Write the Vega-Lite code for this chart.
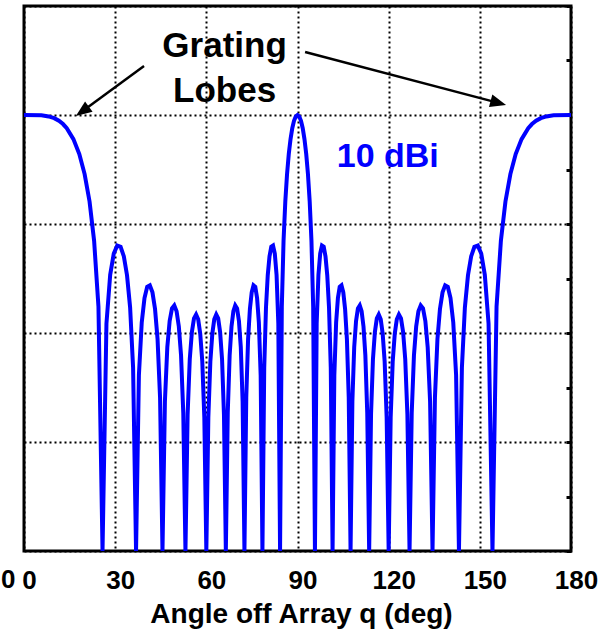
{
  "$schema": "https://vega.github.io/schema/vega-lite/v6.json",
  "width": 547,
  "height": 545,
  "autosize": {"type": "none"},
  "padding": {"left": 24, "top": 6, "right": 44, "bottom": 80},
  "background": "white",
  "config": {"view": {"stroke": "black", "strokeWidth": 3}, "font": "Liberation Sans"},
  "datasets": {
    "pattern": [
      {"angle": 0, "gain": 0}, {"angle": 5.73, "gain": -0.03}, {"angle": 8.11, "gain": -0.13}, {"angle": 9.94, "gain": -0.29},
      {"angle": 11.48, "gain": -0.53}, {"angle": 12.84, "gain": -0.83}, {"angle": 14.07, "gain": -1.21}, {"angle": 16.26, "gain": -2.21},
      {"angle": 18.2, "gain": -3.58}, {"angle": 19.95, "gain": -5.42}, {"angle": 21.57, "gain": -7.93}, {"angle": 23.07, "gain": -11.53},
      {"angle": 24.5, "gain": -17.58}, {"angle": 25.84, "gain": -40}, {"angle": 27.13, "gain": -19.13}, {"angle": 28.36, "gain": -14.66},
      {"angle": 29.54, "gain": -12.71}, {"angle": 30.68, "gain": -11.98}, {"angle": 31.79, "gain": -12.09}, {"angle": 32.86, "gain": -12.97},
      {"angle": 33.9, "gain": -14.7}, {"angle": 34.92, "gain": -17.66}, {"angle": 35.9, "gain": -23.18}, {"angle": 36.87, "gain": -40},
      {"angle": 37.81, "gain": -23.87}, {"angle": 38.74, "gain": -19.05}, {"angle": 39.65, "gain": -16.79}, {"angle": 40.54, "gain": -15.77},
      {"angle": 41.41, "gain": -15.63}, {"angle": 42.27, "gain": -16.27}, {"angle": 43.12, "gain": -17.8}, {"angle": 43.95, "gain": -20.56},
      {"angle": 44.77, "gain": -25.9}, {"angle": 45.57, "gain": -40}, {"angle": 46.37, "gain": -26.27}, {"angle": 47.16, "gain": -21.29},
      {"angle": 47.93, "gain": -18.89}, {"angle": 48.7, "gain": -17.75}, {"angle": 49.46, "gain": -17.48}, {"angle": 50.21, "gain": -18},
      {"angle": 50.95, "gain": -19.41}, {"angle": 51.68, "gain": -22.06}, {"angle": 52.41, "gain": -27.3}, {"angle": 53.13, "gain": -40},
      {"angle": 53.84, "gain": -27.46}, {"angle": 54.55, "gain": -22.39}, {"angle": 55.25, "gain": -19.9}, {"angle": 55.94, "gain": -18.66},
      {"angle": 56.63, "gain": -18.3}, {"angle": 57.32, "gain": -18.74}, {"angle": 57.99, "gain": -20.06}, {"angle": 58.67, "gain": -22.63},
      {"angle": 59.34, "gain": -27.78}, {"angle": 60, "gain": -40}, {"angle": 60.66, "gain": -27.78}, {"angle": 61.32, "gain": -22.63},
      {"angle": 61.97, "gain": -20.06}, {"angle": 62.61, "gain": -18.74}, {"angle": 63.26, "gain": -18.3}, {"angle": 63.9, "gain": -18.66},
      {"angle": 64.53, "gain": -19.9}, {"angle": 65.17, "gain": -22.39}, {"angle": 65.8, "gain": -27.46}, {"angle": 66.42, "gain": -40},
      {"angle": 67.05, "gain": -27.3}, {"angle": 67.67, "gain": -22.06}, {"angle": 68.28, "gain": -19.41}, {"angle": 68.9, "gain": -18},
      {"angle": 69.51, "gain": -17.48}, {"angle": 70.12, "gain": -17.75}, {"angle": 70.73, "gain": -18.89}, {"angle": 71.34, "gain": -21.29},
      {"angle": 71.94, "gain": -26.27}, {"angle": 72.54, "gain": -40}, {"angle": 73.14, "gain": -25.9}, {"angle": 73.74, "gain": -20.56},
      {"angle": 74.34, "gain": -17.8}, {"angle": 74.93, "gain": -16.27}, {"angle": 75.52, "gain": -15.63}, {"angle": 76.11, "gain": -15.77},
      {"angle": 76.7, "gain": -16.79}, {"angle": 77.29, "gain": -19.05}, {"angle": 77.88, "gain": -23.87}, {"angle": 78.46, "gain": -40},
      {"angle": 79.05, "gain": -23.18}, {"angle": 79.63, "gain": -17.66}, {"angle": 80.21, "gain": -14.7}, {"angle": 80.79, "gain": -12.97},
      {"angle": 81.37, "gain": -12.09}, {"angle": 81.95, "gain": -11.98}, {"angle": 82.53, "gain": -12.71}, {"angle": 83.11, "gain": -14.66},
      {"angle": 83.69, "gain": -19.13}, {"angle": 84.26, "gain": -40}, {"angle": 84.84, "gain": -17.58}, {"angle": 85.41, "gain": -11.53},
      {"angle": 85.99, "gain": -7.93}, {"angle": 86.56, "gain": -5.42}, {"angle": 87.13, "gain": -3.58}, {"angle": 87.71, "gain": -2.21},
      {"angle": 88.28, "gain": -1.21}, {"angle": 88.85, "gain": -0.53}, {"angle": 89.43, "gain": -0.13}, {"angle": 90, "gain": 0},
      {"angle": 90.57, "gain": -0.13}, {"angle": 91.15, "gain": -0.53}, {"angle": 91.72, "gain": -1.21}, {"angle": 92.29, "gain": -2.21},
      {"angle": 92.87, "gain": -3.58}, {"angle": 93.44, "gain": -5.42}, {"angle": 94.01, "gain": -7.93}, {"angle": 94.59, "gain": -11.53},
      {"angle": 95.16, "gain": -17.58}, {"angle": 95.74, "gain": -40}, {"angle": 96.31, "gain": -19.13}, {"angle": 96.89, "gain": -14.66},
      {"angle": 97.47, "gain": -12.71}, {"angle": 98.05, "gain": -11.98}, {"angle": 98.63, "gain": -12.09}, {"angle": 99.21, "gain": -12.97},
      {"angle": 99.79, "gain": -14.7}, {"angle": 100.37, "gain": -17.66}, {"angle": 100.95, "gain": -23.18}, {"angle": 101.54, "gain": -40},
      {"angle": 102.12, "gain": -23.87}, {"angle": 102.71, "gain": -19.05}, {"angle": 103.3, "gain": -16.79}, {"angle": 103.89, "gain": -15.77},
      {"angle": 104.48, "gain": -15.63}, {"angle": 105.07, "gain": -16.27}, {"angle": 105.66, "gain": -17.8}, {"angle": 106.26, "gain": -20.56},
      {"angle": 106.86, "gain": -25.9}, {"angle": 107.46, "gain": -40}, {"angle": 108.06, "gain": -26.27}, {"angle": 108.66, "gain": -21.29},
      {"angle": 109.27, "gain": -18.89}, {"angle": 109.88, "gain": -17.75}, {"angle": 110.49, "gain": -17.48}, {"angle": 111.1, "gain": -18},
      {"angle": 111.72, "gain": -19.41}, {"angle": 112.33, "gain": -22.06}, {"angle": 112.95, "gain": -27.3}, {"angle": 113.58, "gain": -40},
      {"angle": 114.2, "gain": -27.46}, {"angle": 114.83, "gain": -22.39}, {"angle": 115.47, "gain": -19.9}, {"angle": 116.1, "gain": -18.66},
      {"angle": 116.74, "gain": -18.3}, {"angle": 117.39, "gain": -18.74}, {"angle": 118.03, "gain": -20.06}, {"angle": 118.68, "gain": -22.63},
      {"angle": 119.34, "gain": -27.78}, {"angle": 120, "gain": -40}, {"angle": 120.66, "gain": -27.78}, {"angle": 121.33, "gain": -22.63},
      {"angle": 122.01, "gain": -20.06}, {"angle": 122.68, "gain": -18.74}, {"angle": 123.37, "gain": -18.3}, {"angle": 124.06, "gain": -18.66},
      {"angle": 124.75, "gain": -19.9}, {"angle": 125.45, "gain": -22.39}, {"angle": 126.16, "gain": -27.46}, {"angle": 126.87, "gain": -40},
      {"angle": 127.59, "gain": -27.3}, {"angle": 128.32, "gain": -22.06}, {"angle": 129.05, "gain": -19.41}, {"angle": 129.79, "gain": -18},
      {"angle": 130.54, "gain": -17.48}, {"angle": 131.3, "gain": -17.75}, {"angle": 132.07, "gain": -18.89}, {"angle": 132.84, "gain": -21.29},
      {"angle": 133.63, "gain": -26.27}, {"angle": 134.43, "gain": -40}, {"angle": 135.23, "gain": -25.9}, {"angle": 136.05, "gain": -20.56},
      {"angle": 136.88, "gain": -17.8}, {"angle": 137.73, "gain": -16.27}, {"angle": 138.59, "gain": -15.63}, {"angle": 139.46, "gain": -15.77},
      {"angle": 140.35, "gain": -16.79}, {"angle": 141.26, "gain": -19.05}, {"angle": 142.19, "gain": -23.87}, {"angle": 143.13, "gain": -40},
      {"angle": 144.1, "gain": -23.18}, {"angle": 145.08, "gain": -17.66}, {"angle": 146.1, "gain": -14.7}, {"angle": 147.14, "gain": -12.97},
      {"angle": 148.21, "gain": -12.09}, {"angle": 149.32, "gain": -11.98}, {"angle": 150.46, "gain": -12.71}, {"angle": 151.64, "gain": -14.66},
      {"angle": 152.87, "gain": -19.13}, {"angle": 154.16, "gain": -40}, {"angle": 155.5, "gain": -17.58}, {"angle": 156.93, "gain": -11.53},
      {"angle": 158.43, "gain": -7.93}, {"angle": 160.05, "gain": -5.42}, {"angle": 161.8, "gain": -3.58}, {"angle": 163.74, "gain": -2.21},
      {"angle": 165.93, "gain": -1.21}, {"angle": 167.16, "gain": -0.83}, {"angle": 168.52, "gain": -0.53}, {"angle": 170.06, "gain": -0.29},
      {"angle": 171.89, "gain": -0.13}, {"angle": 174.27, "gain": -0.03}, {"angle": 180, "gain": 0}
    ]
  },
  "layer": [
    {
      "data": {"name": "pattern"},
      "mark": {"type": "line", "color": "#0000ff", "strokeWidth": 4, "clip": true},
      "encoding": {
        "x": {
          "field": "angle", "type": "quantitative",
          "scale": {"domain": [0, 180], "nice": false, "zero": false},
          "axis": {
            "values": [0, 30, 60, 90, 120, 150, 180],
            "grid": true, "gridColor": "black", "gridDash": [2, 3], "gridWidth": 2, "gridOpacity": 1,
            "domain": false, "ticks": false, "tickSize": 0,
            "labelFont": "Liberation Sans", "labelFontSize": 26, "labelFontWeight": "bold", "labelColor": "black",
            "labelBaseline": "alphabetic", "labelPadding": 37, "labelOffset": 5, "labelFlush": false, "labelOverlap": false,
            "title": "Angle off Array q (deg)",
            "titleFont": "Liberation Sans", "titleFontSize": 28, "titleFontWeight": "bold", "titleColor": "black",
            "titleBaseline": "alphabetic", "titleY": 71, "titleX": 277
          }
        },
        "y": {
          "field": "gain", "type": "quantitative",
          "scale": {"domain": [-40, 10], "nice": false, "zero": false},
          "axis": {
            "orient": "left",
            "values": [-40, -30, -20, -10, 0, 10],
            "grid": true, "gridColor": "black", "gridDash": [2, 3], "gridWidth": 2, "gridOpacity": 1,
            "domain": false, "ticks": false, "labels": false, "title": null
          }
        }
      }
    },
    {
      "data": {"values": [{"x": 119.7, "y": -4.77, "t": "10 dBi"}]},
      "mark": {"type": "text", "color": "#0000ff", "fontSize": 34, "fontWeight": "bold", "font": "Liberation Sans", "align": "center", "baseline": "alphabetic"},
      "encoding": {
        "x": {"field": "x", "type": "quantitative", "scale": {"domain": [0, 180], "nice": false, "zero": false}},
        "y": {
          "field": "y", "type": "quantitative",
          "scale": {"domain": [-40, 10], "nice": false, "zero": false},
          "axis": {
            "orient": "right",
            "values": [-40, -35, -30, -25, -20, -15, -10, -5, 0, 5, 10],
            "labels": false, "ticks": true, "tickSize": -5, "tickWidth": 3, "tickColor": "black",
            "domain": false, "grid": false, "title": null
          }
        },
        "text": {"field": "t"}
      }
    },
    {
      "data": {"values": [{"x": 66, "y": 5.32, "t": "Grating"}, {"x": 66, "y": 1.19, "t": "Lobes"}]},
      "mark": {"type": "text", "color": "black", "fontSize": 35, "fontWeight": "bold", "font": "Liberation Sans", "align": "center", "baseline": "alphabetic"},
      "encoding": {
        "x": {"field": "x", "type": "quantitative", "scale": {"domain": [0, 180], "nice": false, "zero": false}},
        "y": {"field": "y", "type": "quantitative", "scale": {"domain": [-40, 10], "nice": false, "zero": false}, "axis": null},
        "text": {"field": "t"}
      }
    },
    {
      "data": {"values": [{"x": -5.2, "y": -43.39, "t": "0"}]},
      "mark": {"type": "text", "color": "black", "fontSize": 26, "fontWeight": "bold", "font": "Liberation Sans", "align": "center", "baseline": "alphabetic"},
      "encoding": {
        "x": {"field": "x", "type": "quantitative", "scale": {"domain": [0, 180], "nice": false, "zero": false}},
        "y": {"field": "y", "type": "quantitative", "scale": {"domain": [-40, 10], "nice": false, "zero": false}, "axis": null},
        "text": {"field": "t"}
      }
    },
    {
      "data": {"values": [{"x": 39.5, "y": 4.5, "x2": 19.2, "y2": 0.34}, {"x": 92.5, "y": 5.78, "x2": 156.1, "y2": 1.11}]},
      "mark": {"type": "rule", "color": "black", "strokeWidth": 2.5},
      "encoding": {
        "x": {"field": "x", "type": "quantitative", "scale": {"domain": [0, 180], "nice": false, "zero": false}},
        "y": {"field": "y", "type": "quantitative", "scale": {"domain": [-40, 10], "nice": false, "zero": false}, "axis": null},
        "x2": {"field": "x2"},
        "y2": {"field": "y2"}
      }
    },
    {
      "data": {"values": [{"x": 19.2, "y": 0.34}]},
      "mark": {"type": "point", "shape": "M0,-1L-0.8,1L0.8,1Z", "filled": true, "size": 256, "color": "black", "opacity": 1, "angle": 234},
      "encoding": {
        "x": {"field": "x", "type": "quantitative", "scale": {"domain": [0, 180], "nice": false, "zero": false}},
        "y": {"field": "y", "type": "quantitative", "scale": {"domain": [-40, 10], "nice": false, "zero": false}, "axis": null}
      }
    },
    {
      "data": {"values": [{"x": 156.1, "y": 1.11}]},
      "mark": {"type": "point", "shape": "M0,-1L-0.8,1L0.8,1Z", "filled": true, "size": 256, "color": "black", "opacity": 1, "angle": 105.3},
      "encoding": {
        "x": {"field": "x", "type": "quantitative", "scale": {"domain": [0, 180], "nice": false, "zero": false}},
        "y": {"field": "y", "type": "quantitative", "scale": {"domain": [-40, 10], "nice": false, "zero": false}, "axis": null}
      }
    }
  ],
  "resolve": {"axis": {"y": "independent"}}
}
